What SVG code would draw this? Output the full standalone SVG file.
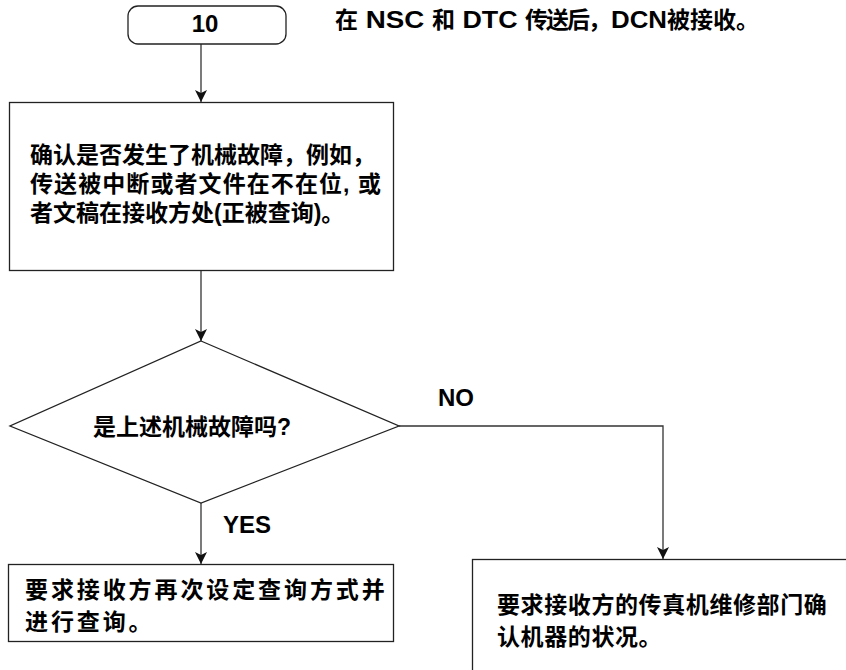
<svg xmlns="http://www.w3.org/2000/svg" width="846" height="670" viewBox="0 0 846 670">
<style>
.t{font-family:"Liberation Sans","Noto Sans CJK SC",sans-serif;font-weight:bold;font-size:23px;fill:#000}
.lat{font-family:"Liberation Sans","Noto Sans CJK SC",sans-serif;font-weight:bold;font-size:24px;fill:#000}
.box{fill:#fff;stroke:#222;stroke-width:1.3}
.ln{fill:none;stroke:#333;stroke-width:1.3}
</style>
<defs>
<marker id="arr" markerUnits="userSpaceOnUse" markerWidth="14" markerHeight="14" viewBox="-13 -7 14 14" refX="0" refY="0" orient="auto">
<path d="M0,0 L-12,-6 L-9,0 L-12,6 Z" fill="#111"/>
</marker>
</defs>
<rect width="846" height="670" fill="#fff"/>
<g id="connectors">
<line class="ln" x1="201" y1="44" x2="201" y2="102" marker-end="url(#arr)"/>
<line class="ln" x1="201" y1="270" x2="201" y2="341" marker-end="url(#arr)"/>
<line class="ln" x1="201" y1="503" x2="201" y2="564" marker-end="url(#arr)"/>
<polyline class="ln" points="399,426 663,426 663,559" marker-end="url(#arr)"/>
<text class="lat" x="223" y="533">YES</text>
<text class="lat" x="438" y="406">NO</text>
</g>
<g id="start">
<rect class="box" x="128" y="6" width="158" height="38" rx="10"/>
<text class="lat" x="205" y="32" text-anchor="middle">10</text>
</g>
<g id="note">
<text class="t" y="28"><tspan x="335">在</tspan><tspan x="358" textLength="74" lengthAdjust="spacingAndGlyphs"> NSC </tspan><tspan x="432">和</tspan><tspan x="455" textLength="70" lengthAdjust="spacingAndGlyphs"> DTC </tspan><tspan x="525" textLength="86" lengthAdjust="spacing">传送后，</tspan><tspan x="611" textLength="56" lengthAdjust="spacingAndGlyphs">DCN</tspan><tspan x="667">被接收。</tspan></text>
</g>
<g id="check">
<rect class="box" x="9.5" y="102.5" width="384" height="168"/>
<text class="t" x="30" y="163">确认是否发生了机械故障，例如，</text>
<text class="t" x="30" y="192" textLength="351" lengthAdjust="spacing">传送被中断或者文件在不在位, 或</text>
<text class="t" x="30" y="221">者文稿在接收方处(正被查询)。</text>
</g>
<g id="decision">
<polygon class="box" points="201,341 399,426 201,503 10,426"/>
<text class="t" x="93" y="435">是上述机械故障吗?</text>
</g>
<g id="yes-box">
<rect class="box" x="8.5" y="564.5" width="385" height="77"/>
<text class="t" x="25" y="598" letter-spacing="2.9">要求接收方再次设定查询方式并</text>
<text class="t" x="25" y="630" letter-spacing="2.9">进行查询。</text>
</g>
<g id="no-box">
<rect class="box" x="472.5" y="559.5" width="420" height="160"/>
<text class="t" x="497" y="613" letter-spacing="0.6">要求接收方的传真机维修部门确</text>
<text class="t" x="497" y="645" letter-spacing="0.6">认机器的状况。</text>
</g>
</svg>
